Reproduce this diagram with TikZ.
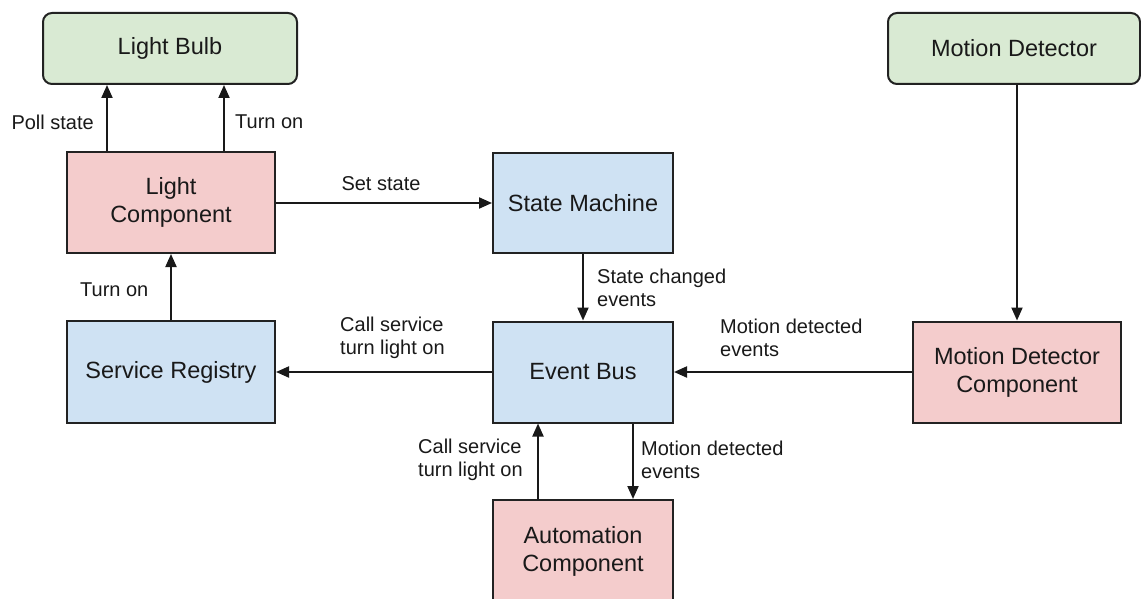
\documentclass[tikz,border=0pt]{standalone}
\usepackage{fontspec}
\setmainfont{Liberation Sans}
\usetikzlibrary{arrows.meta}
\definecolor{bulbgreen}{HTML}{D9EAD3}
\definecolor{comppink}{HTML}{F4CCCC}
\definecolor{coreblue}{HTML}{CFE2F3}
\definecolor{edgegray}{HTML}{222222}
\tikzset{
  box/.style={draw=edgegray, line width=2pt, align=center, inner sep=0pt,
    font=\fontsize{23.5}{28}\selectfont, text=black!90},
  dev/.style={box, fill=bulbgreen, rounded corners=9pt},
  comp/.style={box, fill=comppink},
  core/.style={box, fill=coreblue},
  arr/.style={draw=black!90, line width=2pt, -{Triangle[length=13pt,width=11pt]}},
  lbl/.style={inner sep=0pt, align=left, font=\fontsize{20}{23.5}\selectfont, text=black!90}
}
\begin{document}
\begin{tikzpicture}[x=1pt,y=-1pt]
\clip (0,0) rectangle (1141,599);
\useasboundingbox (0,0) rectangle (1141,599);
\fill[white] (0,0) rectangle (1141,599);

\node[dev, minimum width=254pt, minimum height=71pt] (lb) at (170,48.5) {Light Bulb};
\node[dev, minimum width=252pt, minimum height=71pt] (md) at (1014,48.5) {Motion Detector};
\node[comp, minimum width=208pt, minimum height=101pt] (lc) at (171,202.5) {Light\\Component};
\node[core, minimum width=180pt, minimum height=100pt] (sm) at (583,203) {State Machine};
\node[core, minimum width=208pt, minimum height=102pt] (sr) at (171,372) {Service Registry};
\node[core, minimum width=180pt, minimum height=101pt] (eb) at (583,372) {Event Bus};
\node[comp, minimum width=208pt, minimum height=101pt] (mdc) at (1017,372) {Motion Detector\\Component};
\node[comp, minimum width=180pt, minimum height=102pt] (am) at (583,551) {Automation\\Component};

% anchor coordinates
\coordinate (p1) at (107,0);
\coordinate (p2) at (224,0);
\coordinate (p3) at (538,0);
\coordinate (p4) at (633,0);

\draw[arr] (lc.north -| p1) -- (lb.south -| p1);
\draw[arr] (lc.north -| p2) -- (lb.south -| p2);
\draw[arr] (lc.east |- sm.west) -- (sm.west);
\draw[arr] (sm.south) -- (eb.north);
\draw[arr] (sr.north) -- (lc.south);
\draw[arr] (eb.west) -- (sr.east);
\draw[arr] (md.south -| mdc.north) -- (mdc.north);
\draw[arr] (mdc.west) -- (eb.east);
\draw[arr] (am.north -| p3) -- (eb.south -| p3);
\draw[arr] (eb.south -| p4) -- (am.north -| p4);

\node[lbl, anchor=east] (l1) at (94,122) {Poll state};
\node[lbl, anchor=west] (l2) at (235,122) {Turn on};
\node[lbl] (l3) at (381,184) {Set state};
\node[lbl, anchor=west] (l4) at (597,288) {State changed\\events};
\node[lbl, anchor=west] (l5) at (80,290) {Turn on};
\node[lbl, anchor=west] (l6) at (340,338) {Call service\\turn light on};
\node[lbl, anchor=west] (l7) at (720,338) {Motion detected\\events};
\node[lbl, anchor=west] (l8) at (418,460) {Call service\\turn light on};
\node[lbl, anchor=west] (l9) at (641,460) {Motion detected\\events};
\end{tikzpicture}
\end{document}
